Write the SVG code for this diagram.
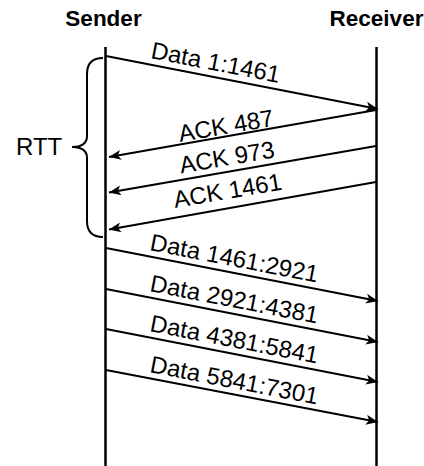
<svg xmlns="http://www.w3.org/2000/svg" width="424" height="466" viewBox="0 0 424 466">
<defs>
<style>
.life{stroke:#000;stroke-width:2.5;fill:none}
.msg{stroke:#000;stroke-width:2;fill:none;marker-end:url(#ah)}
.lbl{font-family:"Liberation Sans",Arial,sans-serif;font-size:24px;fill:#000}
.hdr{font-family:"Liberation Sans",Arial,sans-serif;font-size:22.5px;font-weight:bold;fill:#000;text-anchor:middle}
.brace{stroke:#000;stroke-width:2;fill:none}
</style>
<marker id="ah" markerUnits="userSpaceOnUse" markerWidth="14" markerHeight="12" refX="12" refY="5" orient="auto">
<path d="M0,0 L12,5 L0,10 L3,5 Z" fill="#000"/>
</marker>
</defs>
<rect width="424" height="466" fill="#fff"/>
<g id="sender">
<text class="hdr" x="103.5" y="26">Sender</text>
<line class="life" x1="105.5" y1="47" x2="105.5" y2="466"/>
</g>
<g id="receiver">
<text class="hdr" x="376.5" y="26">Receiver</text>
<line class="life" x1="376.5" y1="47" x2="376.5" y2="466"/>
</g>
<g id="rtt">
<path class="brace" d="M103,58 Q87,58 87,74 L87,136 Q87,147 72,147 Q87,147 87,158 L87,221 Q87,237 103,237"/>
<text class="lbl" x="16" y="155">RTT</text>
</g>
<g id="connectors">
<line class="msg" x1="106" y1="56" x2="378" y2="109"/>
<line class="msg" x1="376" y1="110" x2="109" y2="157"/>
<line class="msg" x1="376" y1="146" x2="109" y2="192.5"/>
<line class="msg" x1="376" y1="182" x2="109" y2="229.5"/>
<line class="msg" x1="106" y1="248" x2="378" y2="301"/>
<line class="msg" x1="106" y1="289" x2="378" y2="342"/>
<line class="msg" x1="106" y1="329" x2="378" y2="382"/>
<line class="msg" x1="106" y1="370" x2="378" y2="422"/>
</g>
<g id="labels">
<text class="lbl" transform="translate(150,58) rotate(11)">Data 1:1461</text>
<text class="lbl" transform="translate(180,142) rotate(-9.8)">ACK 487</text>
<text class="lbl" transform="translate(181,173.5) rotate(-9.8)">ACK 973</text>
<text class="lbl" transform="translate(175,208) rotate(-9.8)">ACK 1461</text>
<text class="lbl" transform="translate(149,250) rotate(11)">Data 1461:2921</text>
<text class="lbl" transform="translate(149,291) rotate(11)">Data 2921:4381</text>
<text class="lbl" transform="translate(149,331) rotate(11)">Data 4381:5841</text>
<text class="lbl" transform="translate(149,372) rotate(11)">Data 5841:7301</text>
</g>
</svg>
